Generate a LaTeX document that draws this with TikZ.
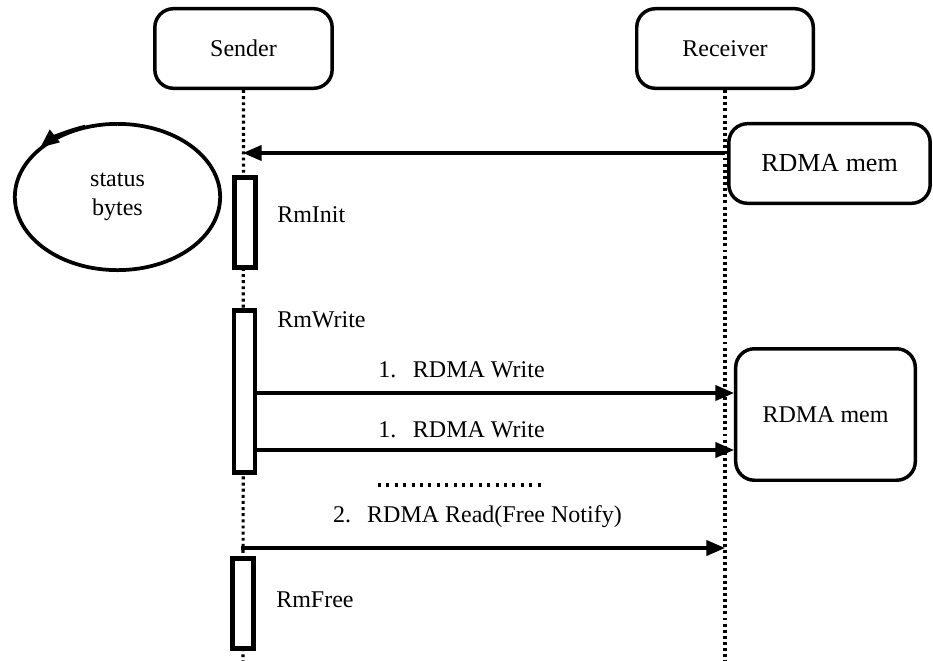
\documentclass[tikz,border=0pt]{standalone}
\usepackage{fontspec}
\setmainfont{LiberationSerif}[Extension=.ttf,UprightFont=*-Regular,BoldFont=*-Bold,ItalicFont=*-Italic]
\usetikzlibrary{arrows.meta,shapes.geometric,calc}

\begin{document}
\begin{tikzpicture}[x=0.75pt,y=0.75pt,
  every node/.style={font=\fontsize{18pt}{21.75pt}\selectfont},
  actor/.style={draw,line width=2.6pt,rounded corners=14pt,fill=white,
    minimum height=59.7pt},
  activation/.style={draw,line width=3.4pt,fill=white,minimum width=16pt,inner sep=0pt},
  lifeline/.style={line width=2.4pt,dash pattern=on 2.2pt off 2.4pt},
  msg/.style={line width=2.3pt,-{Triangle[length=14pt,width=11.5pt]}},
  gap/.style={line width=2.4pt,dash pattern=on 2.2pt off 4.1pt},
  steplabel/.style={anchor=base west,inner sep=0pt}]

\useasboundingbox (0,0) rectangle (933,-661);

% participants
\node[actor,minimum width=133pt] (snd) at (243.5,-48.5) {Sender};
\node[actor,minimum width=132.4pt] (rcv) at (725,-48.5) {Receiver};

% lifelines
\coordinate (sndEnd) at (243,-661);
\coordinate (rcvEnd) at (725,-661);
\draw[lifeline] (snd.south) -- (sndEnd);
\draw[lifeline] (rcv.south) -- (rcvEnd);

% receiver-side memory regions
\node[actor,minimum width=151pt,font=\fontsize{19.5pt}{22pt}\selectfont] (mem1) at (829.5,-163.5) {RDMA mem};
\node[actor,minimum width=134.7pt,minimum height=98.6pt] (mem2) at (825.5,-414.5) {RDMA mem};

% activation bars on the sender
\node[activation,minimum height=67.85pt] (init) at (245,-222.5) {};
\node[activation,minimum height=121.85pt] (write) at (244.5,-391.5) {};
\node[activation,minimum height=67.85pt] (free) at (243,-603.5) {};

\node[steplabel] (linit) at (277,-222) {RmInit};
\node[steplabel] (lwrite) at (277,-327) {RmWrite};
\node[steplabel] (lfree) at (276,-607) {RmFree};

% status bytes loop
\node[draw,ellipse,line width=2.8pt,minimum width=154pt,minimum height=109.7pt,
  inner sep=0pt,align=center] (st) at (117.5,-197) {status\\bytes};
\coordinate (loopA) at ($(st.center)+(108:104 and 74)$);
\draw[msg,line width=2.8pt] (loopA) arc[start angle=108, end angle=138, x radius=78pt, y radius=55.5pt];

% messages
\coordinate (m0s) at (725,-153);
\coordinate (m0e) at (243,-153);
\draw[msg] (m0s) -- (m0e);

\draw[msg] (write.east |- 0,-393) -- (mem2.west |- 0,-393);
\node[anchor=base] (lab1) at (461.5,-377) {1.\hspace{12.5pt}RDMA Write};

\draw[msg] (write.east |- 0,-450) -- (mem2.west |- 0,-450);
\node[anchor=base] (lab2) at (461.5,-437) {1.\hspace{12.5pt}RDMA Write};

\coordinate (g1) at (378,-485);
\coordinate (g2) at (541,-485);
\draw[gap] (g1) -- (g2);

\node[anchor=base] (lab3) at (477.5,-522) {2.\hspace{12pt}RDMA Read(Free Notify)};
\coordinate (m3s) at (241,-548);
\coordinate (m3e) at (725,-548);
\draw[msg] (m3s) -- (m3e);

\end{tikzpicture}
\end{document}
